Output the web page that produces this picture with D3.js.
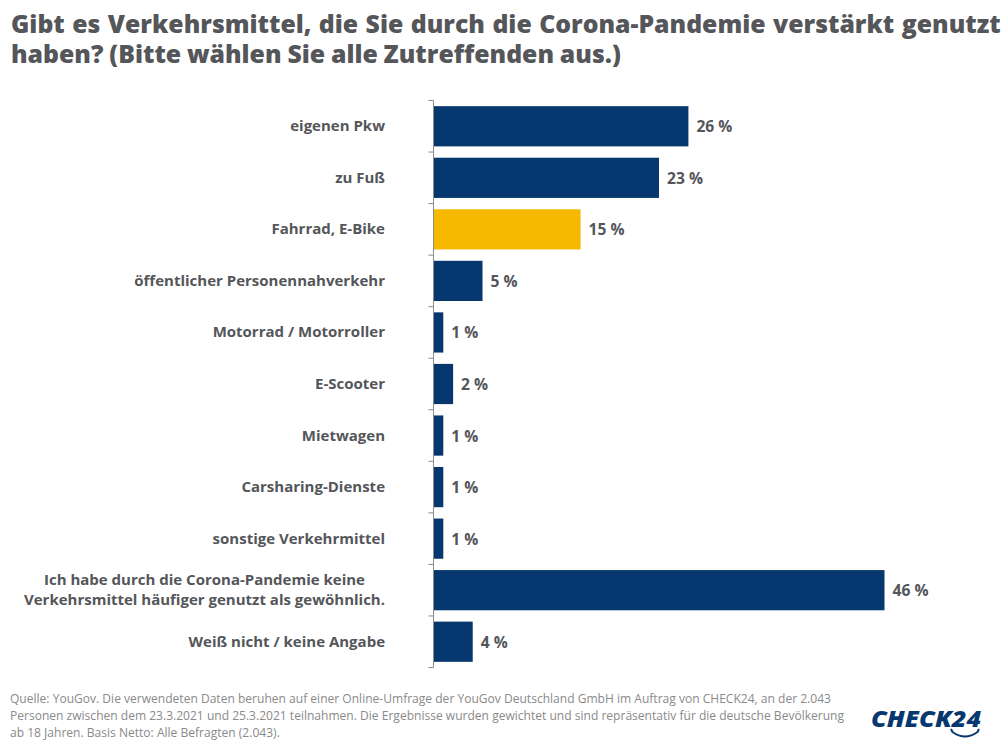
<!DOCTYPE html>
<html>
<head>
<meta charset="utf-8">
<script src="https://cdnjs.cloudflare.com/ajax/libs/d3/7.8.5/d3.min.js"></script>
<style>
  html, body { margin: 0; padding: 0; background: #fff; }
  svg { display: block; font-family: "Open Sans", sans-serif; }
</style>
</head>
<body>
<svg id="chart" width="1008" height="756"></svg>
<script>
const title_lines = [
    "Gibt es Verkehrsmittel, die Sie durch die Corona-Pandemie verstärkt genutzt",
    "haben? (Bitte wählen Sie alle Zutreffenden aus.)"
];
const categories = [
    "eigenen Pkw", "zu Fuß", "Fahrrad, E-Bike", "öffentlicher Personennahverkehr",
    "Motorrad / Motorroller", "E-Scooter", "Mietwagen", "Carsharing-Dienste",
    "sonstige Verkehrmittel",
    "Ich habe durch die Corona-Pandemie keine|Verkehrsmittel häufiger genutzt als gewöhnlich.",
    "Weiß nicht / keine Angabe"
];
const values = [26, 23, 15, 5, 1, 2, 1, 1, 1, 46, 4];
const highlighted = ["Fahrrad, E-Bike"];
const source_lines = [
    "Quelle: YouGov. Die verwendeten Daten beruhen auf einer Online-Umfrage der YouGov Deutschland GmbH im Auftrag von CHECK24, an der 2.043",
    "Personen zwischen dem 23.3.2021 und 25.3.2021 teilnahmen. Die Ergebnisse wurden gewichtet und sind repräsentativ für die deutsche Bevölkerung",
    "ab 18 Jahren. Basis Netto: Alle Befragten (2.043)."
];

const grey = "#54565a", navy = "#06376f", yellow = "#f6b900";
const svg = d3.select("#chart");

// title, one text element with a tspan per line
svg.append("text")
    .attr("font-size", 24.8)
    .attr("font-weight", 800)
    .attr("fill", grey)
    .selectAll("tspan").data(title_lines).join("tspan")
    .attr("x", 11)
    .attr("y", (d, i) => 33 + i*30)
    .style("word-spacing", (d, i) => i == 0 ? "1px" : "-0.6px")
    .text(d => d);

const x = d3.scaleLinear().domain([0, 46]).range([433.5, 884.5]);
const y = d3.scaleBand().domain(categories).range([100.5, 667.5]).paddingInner(0.22).paddingOuter(0.11);

// bars
svg.append("g").selectAll("rect").data(categories).join("rect")
    .attr("x", x(0))
    .attr("y", d => y(d))
    .attr("width", (d, i) => x(values[i]) - x(0))
    .attr("height", y.bandwidth())
    .attr("fill", d => highlighted.includes(d) ? yellow : navy);

// axis with ticks between the bands
const step = y.step();
const tick_ys = d3.range(categories.length + 1).map(i => 100.5 + i*step);
const axis_g = svg.append("g").attr("stroke", "#8c8c8c").attr("stroke-width", 1);
axis_g.append("line").attr("x1", x(0)).attr("x2", x(0)).attr("y1", tick_ys[0]).attr("y2", tick_ys[tick_ys.length-1]);
axis_g.selectAll("line.tick").data(tick_ys).join("line")
    .attr("class", "tick")
    .attr("x1", x(0) - 5).attr("x2", x(0))
    .attr("y1", d => d).attr("y2", d => d);

// category labels
const labels = svg.append("g").attr("text-anchor", "end").attr("fill", grey)
    .attr("font-size", 15).attr("font-weight", 700);
categories.forEach(c => {
    const parts = c.split("|");
    const cy = y(c) + y.bandwidth()/2;
    parts.forEach((p, i) => {
        labels.append("text")
            .attr("x", parts.length > 1 && i == 0 ? 365 : 385)
            .attr("y", cy + 5 + (i - (parts.length-1)/2)*20)
            .text(p);
    });
});

// value labels
svg.append("g").selectAll("text").data(categories).join("text")
    .attr("x", (d, i) => x(values[i]) + 8)
    .attr("y", d => y(d) + y.bandwidth()/2 + 6)
    .attr("font-size", 15.6)
    .attr("font-weight", 700)
    .attr("fill", grey)
    .text((d, i) => values[i] + " %");

// source note
svg.append("g").selectAll("text").data(source_lines).join("text")
    .attr("x", 10)
    .attr("y", (d, i) => 703 + i*17)
    .attr("font-size", 12.05)
    .attr("fill", "#8a8a8a")
    .text(d => d);

// logo
const logo = svg.append("g");
logo.append("text")
    .attr("x", 871).attr("y", 727)
    .attr("font-size", 23)
    .attr("font-weight", 800)
    .attr("font-style", "italic")
    .attr("fill", navy)
    .attr("textLength", 110)
    .attr("lengthAdjust", "spacingAndGlyphs")
    .text("CHECK24");
logo.append("path")
    .attr("d", "M951 729 l1.5 3 Q965 741 977.5 732 l1.5 -3")
    .attr("fill", "none")
    .attr("stroke", navy)
    .attr("stroke-width", 2);
</script>
</body>
</html>
